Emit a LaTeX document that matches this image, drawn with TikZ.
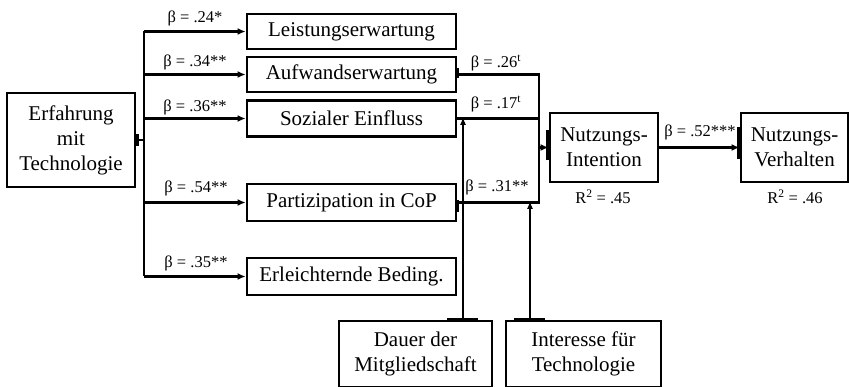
\documentclass[tikz,border=0pt]{standalone}
\usepackage{fontspec}
\setmainfont{Liberation Serif}
\usetikzlibrary{arrows.meta}
\begin{document}
\begin{tikzpicture}[x=1pt,y=-1pt,
  box/.style={draw,line width=2.8pt,inner sep=0pt,align=center,
    font=\fontsize{21}{25}\selectfont},
  lab/.style={inner sep=0pt,anchor=center,font=\fontsize{16.5}{19}\selectfont},
  conn/.style={line width=2.6pt},
  arr/.style={line width=2.6pt,-{Latex[length=8pt,width=7pt]}},
  modarr/.style={line width=1.3pt,-{Latex[length=8pt,width=6pt]}},
  tick/.style={line width=4.5pt}]
\useasboundingbox (0,0) rectangle (849,387);
\fill[white] (0,0) rectangle (849,387);
% boxes
\node[box,minimum width=128pt,minimum height=94pt] (erf) at (71,140) {Erfahrung\\mit\\Technologie};
\node[box,minimum width=209pt,minimum height=35pt] (leist) at (351.5,31.5) {Leistungserwartung};
\node[box,minimum width=209pt,minimum height=35pt] (aufw) at (351.5,74.5) {Aufwandserwartung};
\node[box,minimum width=209pt,minimum height=36pt] (sozial) at (351.5,118.5) {Sozialer Einfluss};
\node[box,minimum width=209pt,minimum height=37pt] (partiz) at (351.5,202.5) {Partizipation in CoP};
\node[box,minimum width=209pt,minimum height=37pt] (erleich) at (351.5,276.5) {Erleichternde Beding.};
\node[box,minimum width=108pt,minimum height=69pt] (ni) at (604,147.5) {Nutzungs-\\Intention};
\node[box,minimum width=107pt,minimum height=69pt] (nv) at (794.5,147.5) {Nutzungs-\\Verhalten};
\node[box,minimum width=153pt,minimum height=66pt] (dauer) at (415.5,354) {Dauer der\\Mitgliedschaft};
\node[box,minimum width=155pt,minimum height=66pt] (inter) at (583.5,354) {Interesse für\\Technologie};
% spine on the left
\coordinate (sp) at (144,0);
\coordinate (col) at (539,0);
\coordinate (m1) at (463,0);
\coordinate (m2) at (530,0);
\draw[conn] (erf.east) -- (sp |- erf.east);
\draw[conn] (sp |- leist.west) -- (sp |- erleich.west);
\draw[tick] ([yshift=-6pt]erf.east) -- ([yshift=6pt]erf.east);
\foreach \n in {leist,aufw,sozial,partiz,erleich}
  \draw[arr] (sp |- \n.west) -- (\n.west);
% right collector
\draw[conn] (aufw.east) -- (col |- aufw.east) -- (col |- partiz.east) -- (partiz.east);
\draw[conn] (sozial.east) -- (col |- sozial.east);
\draw[arr] (col |- ni.west) -- (ni.west);
\draw[tick] ([yshift=-13pt]ni.west) -- ([yshift=17pt]ni.west);
\draw[line width=4pt] ([yshift=-4pt]aufw.east) -- ([yshift=6pt]aufw.east);
\draw[line width=4pt] ([yshift=-10pt]partiz.east) -- ([yshift=2pt]partiz.east);
\draw[arr] (ni.east) -- (nv.west);
\draw[tick] ([yshift=-12pt]nv.west) -- ([yshift=20pt]nv.west);
% moderators
\draw[modarr] (m1 |- dauer.north) -- ([yshift=1.5pt]m1 |- sozial.east);
\draw[modarr] (m2 |- inter.north) -- ([yshift=1.5pt]m2 |- partiz.east);
\draw[line width=4pt] ([xshift=-16pt]m1 |- dauer.north) -- ([xshift=15pt]m1 |- dauer.north);
\draw[line width=4pt] ([xshift=-16pt]m2 |- inter.north) -- ([xshift=15pt]m2 |- inter.north);
% labels
\node[lab] (b1) at (195,18) {β = .24*};
\node[lab] (b2) at (195,62) {β = .34**};
\node[lab] (b3) at (195,107) {β = .36**};
\node[lab] (b4) at (196,188) {β = .54**};
\node[lab] (b5) at (196,263) {β = .35**};
\node[lab] (b6) at (496,63) {β = .26\textsuperscript{t}};
\node[lab] (b7) at (496,104) {β = .17\textsuperscript{t}};
\node[lab] (b8) at (497,187) {β = .31**};
\node[lab] (b9) at (700,132) {β = .52***};
\node[lab] (r1) at (603,197) {R\textsuperscript{2} = .45};
\node[lab] (r2) at (795,197) {R\textsuperscript{2} = .46};
\end{tikzpicture}
\end{document}
